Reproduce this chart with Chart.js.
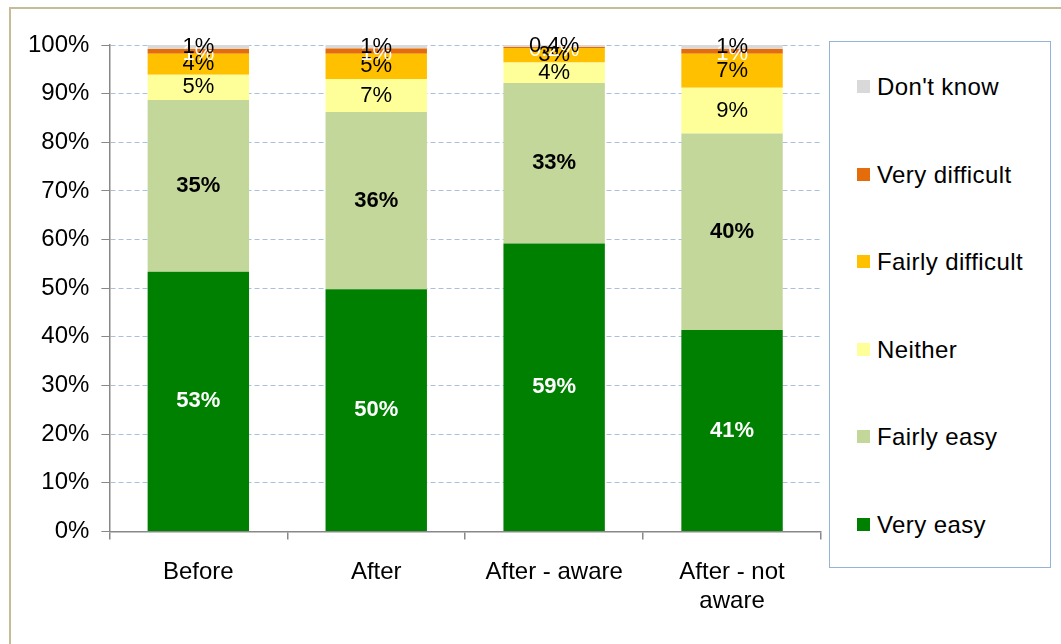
<!DOCTYPE html>
<html>
<head>
<meta charset="utf-8">
<script src="https://cdn.jsdelivr.net/npm/chart.js@4"></script>
<style>
  html, body { margin: 0; padding: 0; background: #fff; }
  #wrap { position: relative; width: 1061px; height: 644px; overflow: hidden; font-family: "Liberation Sans", Arial, sans-serif; }
  #frame { position: absolute; left: 9px; top: 7px; width: 1080px; height: 680px; border: 2px solid #C4BD97; box-sizing: border-box; }
  #chart { position: absolute; left: 0; top: 0; }
  #legend { position: absolute; left: 829px; top: 41px; width: 222px; height: 527px; border: 1.5px solid #95B3D7; box-sizing: border-box; background: #fff; }
  .item { position: absolute; left: 27px; font-size: 24px; letter-spacing: 0.4px; color: #000; white-space: nowrap; }
  .item span { display: inline-block; width: 13px; height: 13px; margin-right: 7px; vertical-align: 2px; }
</style>
</head>
<body>
<div id="wrap">
  <div id="frame"></div>
  <canvas id="chart" width="1061" height="644"></canvas>
  <div id="legend"></div>
</div>
<script>
let categories = ['Before', 'After', 'After - aware', ['After - not', 'aware']];

let veryEasy = [53.4, 49.8, 59.2, 41.4];
let fairlyEasy = [35.3, 36.4, 33.0, 40.4];
let neither = [5.2, 6.8, 4.2, 9.4];
let fairlyDifficult = [4.3, 5.2, 3.0, 7.0];
let veryDifficult = [1.0, 1.1, 0.2, 1.0];
let dontKnow = [0.8, 0.7, 0.4, 0.8];

let yTicks = [0, 10, 20, 30, 40, 50, 60, 70, 80, 90, 100];

let seriesNames = ['Very easy', 'Fairly easy', 'Neither', 'Fairly difficult', 'Very difficult', "Don't know"];
let seriesColors = ['#008000', '#C4D79B', '#FFFF99', '#FFC000', '#E46C0A', '#D9D9D9'];
let labelColors = ['#fff', '#000', '#000', '#000', '#fff', '#000'];
let labelBold = [true, true, false, false, false, false];

let seriesData = [veryEasy, fairlyEasy, neither, fairlyDifficult, veryDifficult, dontKnow];

const FONT = '"Liberation Sans", Arial, sans-serif';

function fmt(v) {
    if (v < 0.5) return v.toFixed(1) + '%';
    return Math.round(v) + '%';
}

// labels in the middle of each segment
const segmentLabels = {
    id: 'segmentLabels',
    afterDatasetsDraw(chart) {
        const ctx = chart.ctx;
        ctx.save();
        ctx.textAlign = 'center';
        ctx.textBaseline = 'middle';
        chart.data.datasets.forEach((ds, i) => {
            const meta = chart.getDatasetMeta(i);
            ctx.fillStyle = labelColors[i];
            ctx.font = (labelBold[i] ? 'bold ' : '') + '22px ' + FONT;
            meta.data.forEach((bar, j) => {
                const v = ds.data[j];
                let y = (bar.y + bar.base) / 2;
                if (i == 4) y += 3;
                ctx.fillText(fmt(v), bar.x, y);
            });
        });
        ctx.restore();
    }
};

let datasets = seriesNames.map((name, i) => ({
    label: name,
    data: seriesData[i],
    backgroundColor: seriesColors[i],
    borderWidth: 0,
    barPercentage: 0.57,
    categoryPercentage: 1
}));

new Chart(document.getElementById('chart'), {
    type: 'bar',
    data: { labels: categories, datasets: datasets },
    options: {
        responsive: false,
        animation: false,
        layout: { padding: { left: 16, right: 240, top: 45, bottom: 9 } },
        plugins: { legend: { display: false }, tooltip: { enabled: false } },
        scales: {
            x: {
                stacked: true,
                grid: { offset: true, drawOnChartArea: false, drawTicks: true, tickLength: 8, color: '#888', lineWidth: 1.5 },
                border: { color: '#888', width: 1.5 },
                ticks: { color: '#000', font: { size: 24, family: FONT, lineHeight: 1.2 }, padding: 19, maxRotation: 0 }
            },
            y: {
                stacked: true,
                min: 0,
                max: 100,
                afterBuildTicks: axis => { axis.ticks = yTicks.map(v => ({ value: v })); },
                grid: { color: '#A9C0DE', tickColor: '#888', tickLength: 8, lineWidth: 1 },
                border: { color: '#888', width: 1.5, dash: [5, 3] },
                ticks: { color: '#000', font: { size: 24, family: FONT }, padding: 12, callback: v => v + '%' }
            }
        }
    },
    plugins: [segmentLabels]
});

// legend, top to bottom is reverse of stack order
let legend = document.getElementById('legend');
for (let k = 0; k < seriesNames.length; k++) {
    let i = seriesNames.length - 1 - k;
    let div = document.createElement('div');
    div.className = 'item';
    div.style.top = (31 + k * 87.5) + 'px';
    div.innerHTML = '<span style="background:' + seriesColors[i] + '"></span>' + seriesNames[i];
    legend.appendChild(div);
}
</script>
</body>
</html>
